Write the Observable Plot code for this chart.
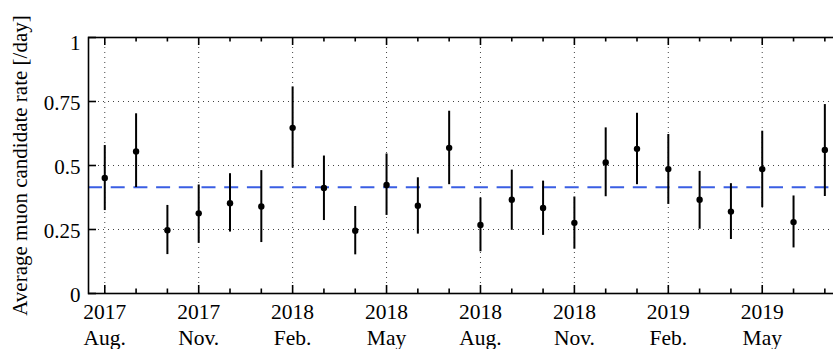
<!DOCTYPE html>
<html>
<head>
<meta charset="utf-8">
<script src="https://cdn.jsdelivr.net/npm/d3@7"></script>
<script src="https://cdn.jsdelivr.net/npm/@observablehq/plot@0.6"></script>
<style>
  html, body { margin: 0; padding: 0; background: #fff; overflow: hidden; }
  #chart svg { display: block; max-width: none; }
</style>
</head>
<body>
<div id="chart"></div>
<script>
// Monthly bins (one point per month)
const months = [
  "2017-08", "2017-09", "2017-10", "2017-11", "2017-12", "2018-01",
  "2018-02", "2018-03", "2018-04", "2018-05", "2018-06", "2018-07",
  "2018-08", "2018-09", "2018-10", "2018-11", "2018-12", "2019-01",
  "2019-02", "2019-03", "2019-04", "2019-05", "2019-06", "2019-07"
];

// Average muon candidate rate per day, with lower / upper error bounds
const rate = [
  0.451, 0.555, 0.247, 0.313, 0.353, 0.340, 0.647, 0.412,
  0.245, 0.424, 0.343, 0.569, 0.268, 0.366, 0.334, 0.276,
  0.512, 0.565, 0.486, 0.366, 0.320, 0.486, 0.279, 0.561
];
const rateLow = [
  0.324, 0.414, 0.152, 0.196, 0.240, 0.199, 0.490, 0.285,
  0.151, 0.305, 0.232, 0.425, 0.163, 0.247, 0.227, 0.173,
  0.378, 0.425, 0.348, 0.251, 0.211, 0.336, 0.178, 0.379
];
const rateHigh = [
  0.578, 0.702, 0.344, 0.424, 0.468, 0.480, 0.807, 0.537,
  0.340, 0.545, 0.452, 0.712, 0.373, 0.482, 0.439, 0.377,
  0.647, 0.704, 0.621, 0.477, 0.429, 0.634, 0.381, 0.738
];

// Mean rate over the whole period
const averageRate = 0.415;

// Labelled (major) x ticks
const tickMonths = ["2017-08", "2017-11", "2018-02", "2018-05", "2018-08", "2018-11", "2019-02", "2019-05"];
const tickYears = ["2017", "2017", "2018", "2018", "2018", "2018", "2019", "2019"];
const tickMonthNames = ["Aug.", "Nov.", "Feb.", "May", "Aug.", "Nov.", "Feb.", "May"];

const yTicks = [0, 0.25, 0.5, 0.75];
const yTopTick = [1];
const yTitle = "Average muon candidate rate [/day]";

const points = months.map((m, i) => ({i, rate: rate[i], lo: rateLow[i], hi: rateHigh[i]}));
const majorIdx = tickMonths.map(m => months.indexOf(m));
const majorTicks = majorIdx.map((i, k) => ({i, label: tickYears[k] + "\n" + tickMonthNames[k]}));
const minorIdx = months.map((m, i) => i).filter(i => !majorIdx.includes(i));

const xMin = -0.52;
const font = "'Liberation Serif', 'DejaVu Serif', serif";
const gridStyle = {stroke: "#444", strokeWidth: 1, strokeDasharray: "1,4", strokeOpacity: 1};

const chart = Plot.plot({
  width: 846,
  height: 349,
  marginLeft: 88,
  marginRight: 6,
  marginTop: 37,
  marginBottom: 56,
  style: {fontFamily: font, fontSize: "21px", background: "white", overflow: "visible", maxWidth: "none"},
  x: {domain: [xMin, 23.5], axis: null},
  y: {domain: [0, 1], axis: null},
  marks: [
    // dotted grid
    Plot.gridX(majorIdx, gridStyle),
    Plot.gridY([0.25, 0.5, 0.75], gridStyle),
    // mean rate
    Plot.ruleY([averageRate], {stroke: "#3a5ee3", strokeWidth: 2, strokeDasharray: "14,8.7"}),
    // error bars and points
    Plot.ruleX(points, {x: "i", y1: "lo", y2: "hi", stroke: "black", strokeWidth: 2}),
    Plot.dot(points, {x: "i", y: "rate", r: 3.2, fill: "black", stroke: "none"}),
    // frame
    Plot.frame({stroke: "black", strokeWidth: 1.6}),
    // inward ticks, bottom and top
    Plot.ruleX(majorIdx, {x: d => d, y1: 0, y2: 0, insetTop: -8, insetBottom: 0, stroke: "black", strokeWidth: 1.6}),
    Plot.ruleX(minorIdx, {x: d => d, y1: 0, y2: 0, insetTop: -4.5, insetBottom: 0, stroke: "black", strokeWidth: 1.6}),
    Plot.ruleX(majorIdx, {x: d => d, y1: 1, y2: 1, insetTop: 0, insetBottom: -8, stroke: "black", strokeWidth: 1.6}),
    Plot.ruleX(minorIdx, {x: d => d, y1: 1, y2: 1, insetTop: 0, insetBottom: -4.5, stroke: "black", strokeWidth: 1.6}),
    // inward ticks, left
    Plot.ruleY([...yTicks, ...yTopTick], {y: d => d, x1: xMin, x2: xMin, insetLeft: 0, insetRight: -8, stroke: "black", strokeWidth: 1.6}),
    // y tick labels
    Plot.text(yTicks, {y: d => d, frameAnchor: "left", text: d => String(d), textAnchor: "end", dx: -8, dy: 2, fill: "black"}),
    Plot.text(yTopTick, {y: d => d, frameAnchor: "left", text: d => String(d), textAnchor: "end", dx: -8, dy: 6, fill: "black"}),
    // x tick labels (year over month)
    Plot.text(majorTicks, {x: "i", text: "label", frameAnchor: "bottom", lineAnchor: "top", dy: 7, lineHeight: 1.22, fontSize: 21.5, fill: "black"}),
    // y title
    Plot.text([yTitle], {frameAnchor: "left", text: d => d, rotate: -90, textAnchor: "middle", dx: -68, fontSize: 21, fill: "black"})
  ]
});

document.getElementById("chart").appendChild(chart);
</script>
</body>
</html>
